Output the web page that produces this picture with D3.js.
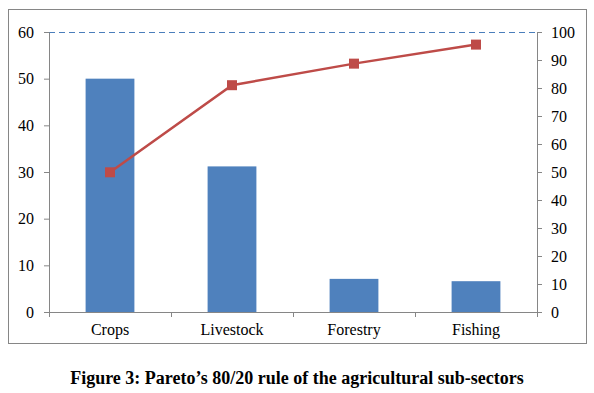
<!DOCTYPE html>
<html>
<head>
<meta charset="utf-8">
<script src="https://cdn.jsdelivr.net/npm/d3@7"></script>
<style>
  body { margin: 0; background: #fff; }
  svg text { font-family: "Liberation Serif", serif; }
</style>
</head>
<body>
<svg id="chart" width="594" height="393"></svg>
<script>
// chart data
const categories = ["Crops", "Livestock", "Forestry", "Fishing"];
const barValues = [50, 31.2, 7.1, 6.6];
const cumulativePct = [49.9, 81.0, 88.7, 95.5];
const leftTicks = [0, 10, 20, 30, 40, 50, 60];
const rightTicks = [0, 10, 20, 30, 40, 50, 60, 70, 80, 90, 100];
const caption = "Figure 3: Pareto\u2019s 80/20 rule of the agricultural sub-sectors";

const svg = d3.select("#chart");

// outer frame
svg.append("rect")
  .attr("x", 8.5).attr("y", 9.5)
  .attr("width", 578).attr("height", 334)
  .attr("fill", "none").attr("stroke", "#868686").attr("stroke-width", 1);

var margin = {top: 32, left: 49, right: 57, bottom: 81},
    width = 594 - margin.left - margin.right,
    height = 393 - margin.top - margin.bottom;

var g = svg.append("g")
  .attr("transform", "translate(" + margin.left + "," + margin.top + ")");

var x = d3.scaleBand().domain(categories).range([0, width]).paddingInner(0.6).paddingOuter(0.3);
var xOuter = d3.scaleBand().domain(categories).range([0, width]);
var yL = d3.scaleLinear().domain([0, 60]).range([height, 0]);
var yR = d3.scaleLinear().domain([0, 100]).range([height, 0]);

// top dashed line at 100%
g.append("line")
  .attr("x1", 0).attr("x2", width)
  .attr("y1", yR(100) + 0.5).attr("y2", yR(100) + 0.5)
  .attr("stroke", "#4a7ebb").attr("stroke-width", 1)
  .attr("stroke-dasharray", "6,4");

// bars
g.append("g").selectAll("rect")
  .data(barValues)
  .enter().append("rect")
    .attr("x", (d, i) => x(categories[i]))
    .attr("y", d => yL(d))
    .attr("width", x.bandwidth())
    .attr("height", d => height - yL(d))
    .attr("fill", "#4f81bd");

// axes
function styleAxis(sel) {
  sel.selectAll("path, line").attr("stroke", "#868686");
  sel.selectAll("text").attr("fill", "#000").style("font-size", "16px");
}

g.append("g")
  .call(d3.axisLeft(yL).tickValues(leftTicks).tickSize(5).tickPadding(10).tickSizeOuter(0))
  .call(styleAxis);

g.append("g")
  .attr("transform", "translate(" + width + ",0)")
  .call(d3.axisRight(yR).tickValues(rightTicks).tickSize(5).tickPadding(9).tickSizeOuter(0))
  .call(styleAxis);

var xAxis = g.append("g")
  .attr("transform", "translate(0," + height + ")")
  .call(d3.axisBottom(xOuter).tickSize(0).tickPadding(12))
  .call(styleAxis);

// category boundary ticks
xAxis.selectAll(".bound")
  .data(categories.concat(["end"]))
  .enter().append("line")
    .attr("x1", (d, i) => i * xOuter.step() + 0.5)
    .attr("x2", (d, i) => i * xOuter.step() + 0.5)
    .attr("y1", 0).attr("y2", 5)
    .attr("stroke", "#868686");

// cumulative line
var line = d3.line()
  .x((d, i) => xOuter(categories[i]) + xOuter.bandwidth() / 2)
  .y(d => yR(d));

g.append("path")
  .datum(cumulativePct)
  .attr("d", line)
  .attr("fill", "none")
  .attr("stroke", "#be4b48")
  .attr("stroke-width", 2.5);

g.append("g").selectAll("rect")
  .data(cumulativePct)
  .enter().append("rect")
    .attr("x", (d, i) => xOuter(categories[i]) + xOuter.bandwidth() / 2 - 5)
    .attr("y", d => yR(d) - 5)
    .attr("width", 10).attr("height", 10)
    .attr("fill", "#be4b48");

// caption
svg.append("text")
  .attr("x", 297).attr("y", 384)
  .attr("text-anchor", "middle")
  .style("font-size", "18px")
  .style("font-weight", "bold")
  .text(caption);
</script>
</body>
</html>
